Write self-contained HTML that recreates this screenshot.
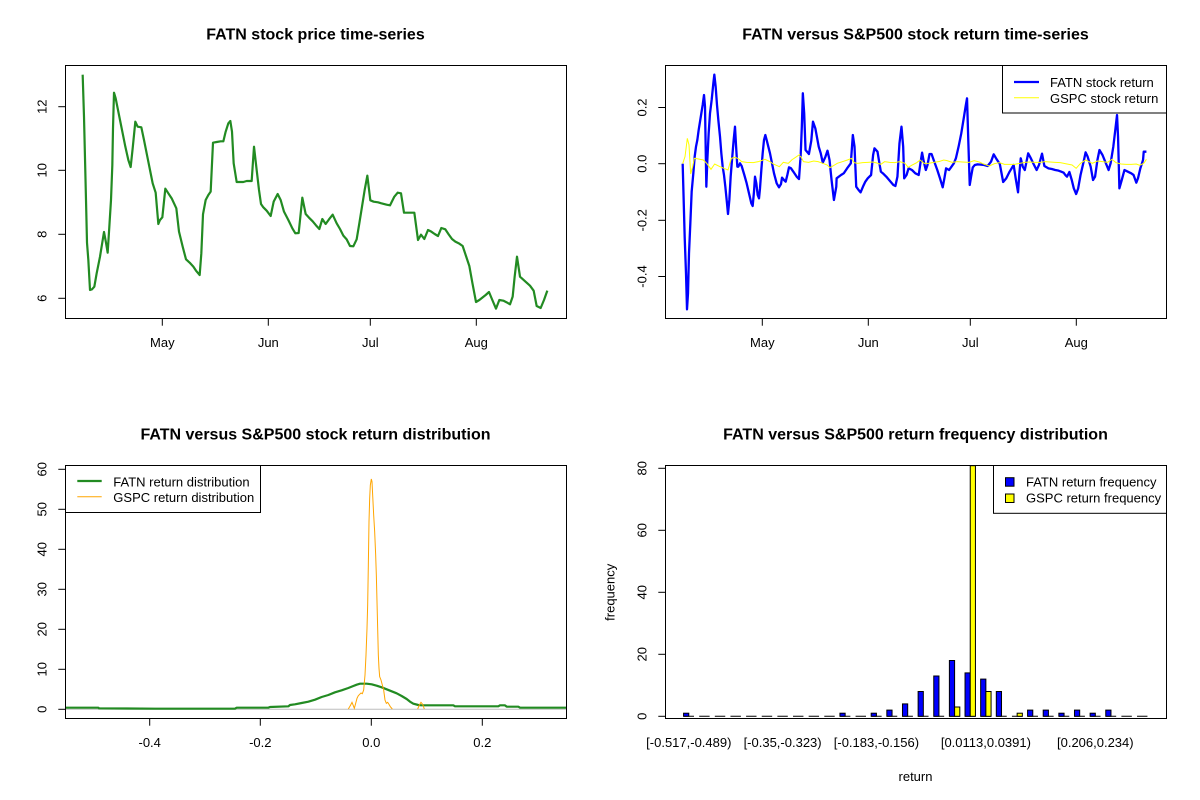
<!DOCTYPE html>
<html>
<head>
<meta charset="utf-8">
<style>
html,body{margin:0;padding:0;background:#fff;}
svg{display:block;}
text{font-family:"Liberation Sans",Arial,sans-serif;fill:#000;}
.t{font-size:16px;font-weight:bold;text-anchor:middle;}
.a{font-size:13px;text-anchor:middle;}
.l{font-size:13px;}
</style>
</head>
<body>
<svg width="1200" height="800" viewBox="0 0 1200 800" xmlns="http://www.w3.org/2000/svg">
<rect x="0" y="0" width="1200" height="800" fill="#fff"/>

<!-- ================= TOP LEFT ================= -->
<text class="t" x="315.5" y="39.5">FATN stock price time-series</text>
<g transform="translate(60,60) scale(0.333333)">
<polyline fill="none" stroke="#228B22" stroke-width="2.2" vector-effect="non-scaling-stroke" stroke-linejoin="round" points="68,44 72,170 75,295 78,420 81,548 85,600 90,690 96,688 103,680 110,640 120,590 132,516 138,548 143,578 148,500 153,420 157,315 159,205 162,98 167,115 172,140 180,180 188,220 196,260 205,300 212,321 218,265 226,185 233,200 244,202 252,240 262,290 270,330 278,370 287,398 295,492 300,480 307,472 316,386 325,400 335,415 342,430 349,445 357,515 368,560 378,598 389,608 400,620 408,632 419,645 424,580 429,463 437,420 445,405 452,395 459,248 470,246 482,244 490,244 497,215 505,190 511,183 516,215 521,310 530,366 540,366 550,366 560,363 575,363 582,260 590,330 597,390 603,432 610,442 620,452 632,468 641,425 653,402 662,420 672,455 685,480 697,505 706,520 716,519 727,413 737,462 747,473 758,484 768,496 778,507 787,477 797,492 807,478 818,464 830,490 840,507 850,527 860,538 870,558 880,559 890,538 898,490 906,440 914,390 922,347 931,421 941,425 954,427 964,430 980,434 990,436 1003,410 1013,398 1023,400 1032,458 1047,458 1063,458 1074,540 1083,524 1093,537 1104,510 1114,515 1124,522 1134,528 1144,504 1156,508 1166,523 1176,537 1186,545 1198,551 1208,558 1218,588 1228,618 1237,668 1248,726 1258,720 1268,712 1277,705 1287,696 1297,720 1308,746 1318,720 1330,722 1340,727 1350,733 1358,710 1364,650 1371,590 1380,650 1390,659 1400,668 1410,677 1421,692 1430,738 1442,744 1452,720 1462,692"/>
</g>
<rect x="65.5" y="65.5" width="501" height="253" fill="none" stroke="#000" stroke-width="1"/>
<g stroke="#000" stroke-width="1">
<line x1="162.3" y1="318.5" x2="162.3" y2="325.7"/>
<line x1="268.3" y1="318.5" x2="268.3" y2="325.7"/>
<line x1="370.3" y1="318.5" x2="370.3" y2="325.7"/>
<line x1="476.3" y1="318.5" x2="476.3" y2="325.7"/>
<line x1="65.5" y1="106.7" x2="58.3" y2="106.7"/>
<line x1="65.5" y1="170.3" x2="58.3" y2="170.3"/>
<line x1="65.5" y1="234.3" x2="58.3" y2="234.3"/>
<line x1="65.5" y1="298.3" x2="58.3" y2="298.3"/>
</g>
<text class="a" x="162.3" y="347">May</text>
<text class="a" x="268.3" y="347">Jun</text>
<text class="a" x="370.3" y="347">Jul</text>
<text class="a" x="476.3" y="347">Aug</text>
<text class="a" transform="translate(46.5,106.7) rotate(-90)">12</text>
<text class="a" transform="translate(46.5,170.3) rotate(-90)">10</text>
<text class="a" transform="translate(46.5,234.3) rotate(-90)">8</text>
<text class="a" transform="translate(46.5,298.3) rotate(-90)">6</text>

<!-- ================= TOP RIGHT ================= -->
<text class="t" x="915.5" y="39.5">FATN versus S&amp;P500 stock return time-series</text>
<!-- blue A -->
<g transform="translate(600,60) scale(0.333333)">
<polyline fill="none" stroke="#0000FF" stroke-width="2.3" vector-effect="non-scaling-stroke" stroke-linejoin="round" points="248,311 251,420 254,530 258,640 261,748 264,700 267,580 271,490 275,395 280,340 284,290 288,260 292,240 296,210 300,185 304,160 308,135 312,105 315,140 319,380 322,300 326,220 330,160 335,120 340,70 343,44 347,80 351,135 355,180 360,230 364,280 368,320 372,345 376,380 381,430 384,462 388,420 392,350 396,300 401,240 405,200 408,255 412,320 415,320 420,310 425,318 433,345 440,370 447,400 454,430 458,438 462,395 465,350 469,370 473,405 477,415 480,385 484,330 488,280 492,240 496,225 500,240 505,260 510,280 516,310 522,340 530,370 537,382 543,372 546,353 552,360 557,365 562,345 567,322 573,325 580,335 590,350 597,357 601,300"/>
</g>
<!-- blue B -->
<g transform="translate(665,60) scale(0.337838,0.333333) translate(-45,0)">
<polyline fill="none" stroke="#0000FF" stroke-width="2.3" vector-effect="non-scaling-stroke" stroke-linejoin="round" points="446,300 450,200 453,100 457,160 461,270 471,282 478,242 483,185 490,205 500,260 506,280 512,308 520,290 526,272 532,300 538,360 545,420 552,380 553,355 566,345 574,340 584,325 595,310 601,225 606,260 611,380 618,390 624,397 631,380 638,365 645,355 655,345 661,285 665,265 674,275 681,318 684,335 690,340 700,350 710,362 721,375 727,378 733,350 739,250 745,200 750,260 753,355 760,345 766,325 776,330 786,340 796,345 801,310 806,278 811,305 817,330 822,315 828,282 834,282 842,305 851,330 859,355 867,382 872,355 877,325 886,330 893,320 900,310 906,295 914,260 922,220 930,170 935,138 939,115 943,250 947,375 951,350 956,322 962,315 970,313 980,314 990,315 1000,318 1010,305 1018,283 1025,295 1036,312 1046,366 1055,355 1065,335 1077,315 1083,355 1090,397 1094,340 1098,295 1104,320 1110,330 1115,305 1120,280 1128,295 1135,310 1145,330 1152,315 1161,281 1168,318 1180,325 1190,327 1200,330 1210,332 1218,335 1225,338 1230,345 1235,350 1242,336 1249,360 1255,385 1262,402 1268,385 1275,345 1283,310 1290,277 1296,290 1305,320 1312,360 1318,350 1325,300 1331,270 1340,285 1350,310 1358,330 1364,310 1372,260 1379,200 1383,165 1386,230 1390,385 1397,360 1405,330 1415,335 1425,340 1432,345 1440,368 1445,355 1452,325 1460,300 1462,275 1470,275"/>
</g>
<!-- yellow A -->
<g transform="translate(600,60) scale(0.333333)">
<polyline fill="none" stroke="#FFFF00" stroke-width="1" vector-effect="non-scaling-stroke" points="248,311 255,290 262,235 267,255 272,342 278,320 283,295 290,296 310,300 320,310 333,328 344,312 360,320 384,330 394,295 405,292 415,296 425,305 440,307 460,308 475,305 495,298 510,305 520,312 538,320 550,307 565,310 575,300 600,283"/>
</g>
<!-- yellow B -->
<g transform="translate(665,60) scale(0.337838,0.333333) translate(-45,0)">
<polyline fill="none" stroke="#FFFF00" stroke-width="1" vector-effect="non-scaling-stroke" points="444,288 447,290 455,305 470,307 485,303 498,305 512,310 525,315 533,323 542,318 555,310 570,305 585,300 597,295 605,308 615,310 630,308 645,307 660,306 672,309 684,313 695,305 710,307 725,308 740,305 755,310 765,322 775,316 790,308 800,300 812,310 825,310 840,307 855,305 870,300 880,302 895,307 910,305 925,306 945,307 960,302 975,306 990,313 1005,318 1020,311 1035,308 1050,313 1065,313 1080,313 1095,310 1110,307 1125,306 1140,307 1155,307 1170,305 1185,306 1200,307 1215,308 1235,312 1250,315 1262,325 1275,310 1290,300 1300,305 1310,310 1325,303 1340,305 1355,307 1368,298 1380,308 1395,312 1410,313 1425,313 1440,312 1450,316 1462,310 1470,298"/>
</g>
<rect x="665.5" y="65.5" width="501" height="253" fill="none" stroke="#000" stroke-width="1"/>
<!-- legend -->
<rect x="1002.5" y="65.5" width="164" height="47.5" fill="#fff" stroke="#000" stroke-width="1"/>
<line x1="1014" y1="82" x2="1039" y2="82" stroke="#0000FF" stroke-width="2.2"/>
<line x1="1014" y1="97.7" x2="1039" y2="97.7" stroke="#FFFF00" stroke-width="1"/>
<text class="l" x="1050" y="87">FATN stock return</text>
<text class="l" x="1050" y="103">GSPC stock return</text>
<g stroke="#000" stroke-width="1">
<line x1="762.3" y1="318.5" x2="762.3" y2="325.7"/>
<line x1="868.3" y1="318.5" x2="868.3" y2="325.7"/>
<line x1="970.3" y1="318.5" x2="970.3" y2="325.7"/>
<line x1="1076.3" y1="318.5" x2="1076.3" y2="325.7"/>
<line x1="665.5" y1="107.5" x2="658.3" y2="107.5"/>
<line x1="665.5" y1="163.7" x2="658.3" y2="163.7"/>
<line x1="665.5" y1="220.3" x2="658.3" y2="220.3"/>
<line x1="665.5" y1="276.5" x2="658.3" y2="276.5"/>
</g>
<text class="a" x="762.3" y="347">May</text>
<text class="a" x="868.3" y="347">Jun</text>
<text class="a" x="970.3" y="347">Jul</text>
<text class="a" x="1076.3" y="347">Aug</text>
<text class="a" transform="translate(646.5,107.5) rotate(-90)">0.2</text>
<text class="a" transform="translate(646.5,163.7) rotate(-90)">0.0</text>
<text class="a" transform="translate(646.5,220.3) rotate(-90)">-0.2</text>
<text class="a" transform="translate(646.5,276.5) rotate(-90)">-0.4</text>

<!-- ================= BOTTOM LEFT ================= -->
<text class="t" x="315.5" y="439.5">FATN versus S&amp;P500 stock return distribution</text>
<line x1="65.5" y1="709.3" x2="566.5" y2="709.3" stroke="#BEBEBE" stroke-width="1"/>
<g transform="translate(55,455) scale(0.333333)">
<polyline fill="none" stroke="#228B22" stroke-width="2.2" vector-effect="non-scaling-stroke" stroke-linejoin="round" points="32,758 130,758 132,760 300,761 540,761 545,758 640,758 645,756 700,754 705,750 720,748 740,744 760,740 780,734 800,726 820,720 840,712 860,706 880,699 895,693 905,689 915,686 935,686 950,688 965,692 980,697 995,703 1010,709 1025,715 1040,723 1055,732 1065,740 1075,746 1090,750 1100,751 1195,751 1200,754 1330,754 1335,751 1350,751 1355,755 1390,755 1395,758 1533,758"/>
<polyline fill="none" stroke="#FFA500" stroke-width="1" vector-effect="non-scaling-stroke" points="880,762 887,750 891,742 895,752 898,760 902,745 906,730 910,722 914,718 918,714 922,716 926,705 930,660 933,600 936,520 938,450 940,330 942,200 944,130 946,90 949,72 951,80 953,120 956,180 959,230 962,300 964,360 966,440 968,520 970,600 972,640 974,665 978,675 982,690 986,705 990,735 994,745 998,742 1002,748 1006,755 1012,762"/>
<polyline fill="none" stroke="#FFA500" stroke-width="1" vector-effect="non-scaling-stroke" points="1088,762 1093,750 1098,742 1103,748 1108,762"/>
</g>
<rect x="65.5" y="465.5" width="501" height="253" fill="none" stroke="#000" stroke-width="1"/>
<rect x="65.5" y="465.5" width="195" height="47" fill="#fff" stroke="#000" stroke-width="1"/>
<line x1="77.3" y1="481" x2="101.7" y2="481" stroke="#228B22" stroke-width="2.2"/>
<line x1="77.3" y1="496.7" x2="101.7" y2="496.7" stroke="#FFA500" stroke-width="1"/>
<text class="l" x="113.3" y="486.5">FATN return distribution</text>
<text class="l" x="113.3" y="502">GSPC return distribution</text>
<g stroke="#000" stroke-width="1">
<line x1="149.7" y1="718.5" x2="149.7" y2="725.7"/>
<line x1="260.3" y1="718.5" x2="260.3" y2="725.7"/>
<line x1="371.3" y1="718.5" x2="371.3" y2="725.7"/>
<line x1="482.3" y1="718.5" x2="482.3" y2="725.7"/>
<line x1="65.5" y1="709.3" x2="58.3" y2="709.3"/>
<line x1="65.5" y1="669.3" x2="58.3" y2="669.3"/>
<line x1="65.5" y1="629.3" x2="58.3" y2="629.3"/>
<line x1="65.5" y1="589.3" x2="58.3" y2="589.3"/>
<line x1="65.5" y1="549.3" x2="58.3" y2="549.3"/>
<line x1="65.5" y1="509.3" x2="58.3" y2="509.3"/>
<line x1="65.5" y1="469.3" x2="58.3" y2="469.3"/>
</g>
<text class="a" x="149.7" y="747">-0.4</text>
<text class="a" x="260.3" y="747">-0.2</text>
<text class="a" x="371.3" y="747">0.0</text>
<text class="a" x="482.3" y="747">0.2</text>
<text class="a" transform="translate(46.5,709.3) rotate(-90)">0</text>
<text class="a" transform="translate(46.5,669.3) rotate(-90)">10</text>
<text class="a" transform="translate(46.5,629.3) rotate(-90)">20</text>
<text class="a" transform="translate(46.5,589.3) rotate(-90)">30</text>
<text class="a" transform="translate(46.5,549.3) rotate(-90)">40</text>
<text class="a" transform="translate(46.5,509.3) rotate(-90)">50</text>
<text class="a" transform="translate(46.5,469.3) rotate(-90)">60</text>

<!-- ================= BOTTOM RIGHT ================= -->
<text class="t" x="915.5" y="439.5">FATN versus S&amp;P500 return frequency distribution</text>
<!-- zero-height bar lines -->
<path fill="none" stroke="#000" stroke-width="1" d="M683.56 716.3h10.42 M699.2 716.3h10.42 M714.83 716.3h10.42 M730.47 716.3h10.42 M746.11 716.3h10.42 M761.75 716.3h10.42 M777.38 716.3h10.42 M793.02 716.3h10.42 M808.66 716.3h10.42 M824.29 716.3h10.42 M839.93 716.3h10.42 M855.57 716.3h10.42 M871.2 716.3h10.42 M886.84 716.3h10.42 M902.48 716.3h10.42 M918.12 716.3h10.42 M933.75 716.3h10.42 M949.39 716.3h10.42 M965.03 716.3h10.42 M980.66 716.3h10.42 M996.3 716.3h10.42 M1011.94 716.3h10.42 M1027.57 716.3h10.42 M1043.21 716.3h10.42 M1058.85 716.3h10.42 M1074.48 716.3h10.42 M1090.12 716.3h10.42 M1105.76 716.3h10.42 M1121.4 716.3h10.42 M1137.03 716.3h10.42"/>
<g fill="#0000FF" stroke="#000" stroke-width="1">
<rect x="683.56" y="713.2" width="5.21" height="3.1"/>
<rect x="839.93" y="713.2" width="5.21" height="3.1"/>
<rect x="871.2" y="713.2" width="5.21" height="3.1"/>
<rect x="886.84" y="710.1" width="5.21" height="6.2"/>
<rect x="902.48" y="703.9" width="5.21" height="12.4"/>
<rect x="918.12" y="691.5" width="5.21" height="24.8"/>
<rect x="933.75" y="676.0" width="5.21" height="40.3"/>
<rect x="949.39" y="660.5" width="5.21" height="55.8"/>
<rect x="965.03" y="672.9" width="5.21" height="43.4"/>
<rect x="980.66" y="679.1" width="5.21" height="37.2"/>
<rect x="996.3" y="691.5" width="5.21" height="24.8"/>
<rect x="1027.57" y="710.1" width="5.21" height="6.2"/>
<rect x="1043.21" y="710.1" width="5.21" height="6.2"/>
<rect x="1058.85" y="713.2" width="5.21" height="3.1"/>
<rect x="1074.48" y="710.1" width="5.21" height="6.2"/>
<rect x="1090.12" y="713.2" width="5.21" height="3.1"/>
<rect x="1105.76" y="710.1" width="5.21" height="6.2"/>
</g>
<g fill="#FFFF00" stroke="#000" stroke-width="1">
<rect x="954.6" y="707.0" width="5.21" height="9.3"/>
<rect x="970.24" y="465.7" width="5.21" height="250.6"/>
<rect x="985.87" y="691.5" width="5.21" height="24.8"/>
<rect x="1017.15" y="713.2" width="5.21" height="3.1"/>
</g>
<rect x="665.5" y="465.5" width="501" height="253" fill="none" stroke="#000" stroke-width="1"/>
<rect x="993.5" y="465.5" width="173" height="47.8" fill="#fff" stroke="#000" stroke-width="1"/>
<rect x="1005.5" y="477.7" width="8.5" height="8.5" fill="#0000FF" stroke="#000" stroke-width="1"/>
<rect x="1005.5" y="494" width="8.5" height="8.5" fill="#FFFF00" stroke="#000" stroke-width="1"/>
<text class="l" x="1026" y="486.5">FATN return frequency</text>
<text class="l" x="1026" y="502.5">GSPC return frequency</text>
<g stroke="#000" stroke-width="1">
<line x1="665.5" y1="716.3" x2="658.3" y2="716.3"/>
<line x1="665.5" y1="654.3" x2="658.3" y2="654.3"/>
<line x1="665.5" y1="592.3" x2="658.3" y2="592.3"/>
<line x1="665.5" y1="530.3" x2="658.3" y2="530.3"/>
<line x1="665.5" y1="468.3" x2="658.3" y2="468.3"/>
</g>
<text class="a" transform="translate(646.5,716.3) rotate(-90)">0</text>
<text class="a" transform="translate(646.5,654.3) rotate(-90)">20</text>
<text class="a" transform="translate(646.5,592.3) rotate(-90)">40</text>
<text class="a" transform="translate(646.5,530.3) rotate(-90)">60</text>
<text class="a" transform="translate(646.5,468.3) rotate(-90)">80</text>
<text class="a" transform="translate(614.5,592.3) rotate(-90)">frequency</text>
<text class="a" x="688.8" y="747">[-0.517,-0.489)</text>
<text class="a" x="782.6" y="747">[-0.35,-0.323)</text>
<text class="a" x="876.4" y="747">[-0.183,-0.156)</text>
<text class="a" x="985.9" y="747">[0.0113,0.0391)</text>
<text class="a" x="1095.3" y="747">[0.206,0.234)</text>
<text class="a" x="915.5" y="781">return</text>
</svg>
</body>
</html>
